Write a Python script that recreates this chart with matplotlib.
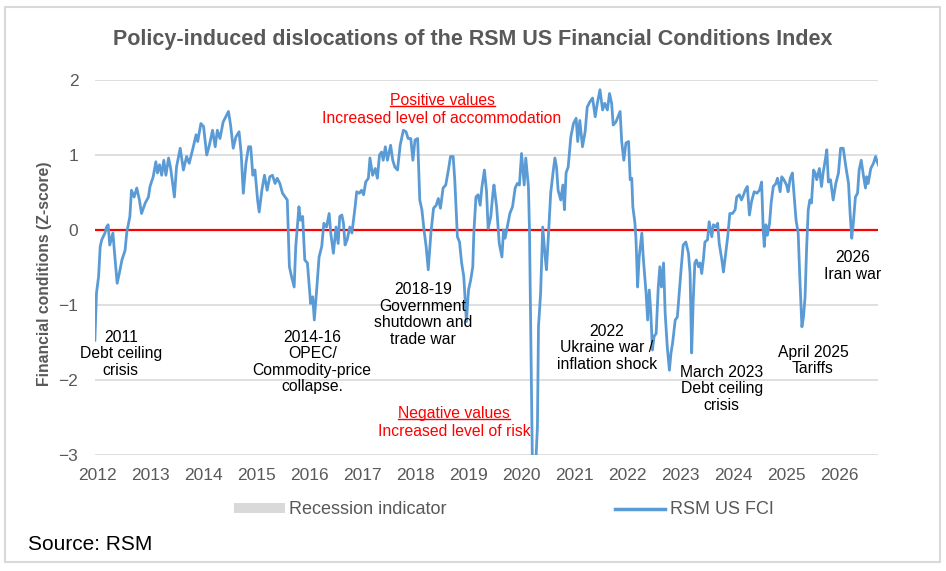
import matplotlib.pyplot as plt
from matplotlib.lines import Line2D
from matplotlib.patches import Patch, Rectangle

plt.rcParams['font.family'] = ['Liberation Sans', 'DejaVu Sans']

# RSM US FCI (decimal year, z-score)
dates = [
    2011.96, 2011.99, 2012.03, 2012.06, 2012.09, 2012.15, 2012.18, 2012.21, 2012.24, 2012.30,
    2012.33, 2012.38, 2012.42, 2012.47, 2012.53, 2012.56, 2012.62, 2012.65, 2012.70, 2012.75,
    2012.80, 2012.84, 2012.91, 2012.97, 2013.00, 2013.06, 2013.11, 2013.14, 2013.18, 2013.22,
    2013.26, 2013.30, 2013.35, 2013.39, 2013.46, 2013.50, 2013.57, 2013.63, 2013.69, 2013.74,
    2013.81, 2013.87, 2013.90, 2013.96, 2014.01, 2014.07, 2014.12, 2014.18, 2014.23, 2014.27,
    2014.32, 2014.38, 2014.43, 2014.48, 2014.52, 2014.57, 2014.62, 2014.68, 2014.72, 2014.76,
    2014.81, 2014.86, 2014.90, 2014.94, 2014.98, 2015.03, 2015.06, 2015.11, 2015.16, 2015.21,
    2015.26, 2015.31, 2015.36, 2015.40, 2015.45, 2015.50, 2015.55, 2015.59, 2015.63, 2015.67,
    2015.72, 2015.75, 2015.81, 2015.84, 2015.88, 2015.92, 2015.97, 2016.03, 2016.07, 2016.10,
    2016.14, 2016.19, 2016.24, 2016.28, 2016.33, 2016.38, 2016.41, 2016.46, 2016.51, 2016.55,
    2016.58, 2016.62, 2016.65, 2016.68, 2016.72, 2016.77, 2016.81, 2016.87, 2016.90, 2016.95,
    2016.99, 2017.03, 2017.07, 2017.12, 2017.15, 2017.20, 2017.25, 2017.29, 2017.33, 2017.37,
    2017.40, 2017.44, 2017.48, 2017.54, 2017.58, 2017.62, 2017.67, 2017.72, 2017.78, 2017.83,
    2017.87, 2017.92, 2017.96, 2018.00, 2018.05, 2018.09, 2018.13, 2018.17, 2018.21, 2018.25,
    2018.30, 2018.35, 2018.40, 2018.44, 2018.48, 2018.53, 2018.58, 2018.63, 2018.67, 2018.72,
    2018.75, 2018.80, 2018.84, 2018.88, 2018.92, 2018.97, 2019.01, 2019.05, 2019.09, 2019.11,
    2019.15, 2019.19, 2019.23, 2019.26, 2019.31, 2019.35, 2019.38, 2019.43, 2019.47, 2019.49,
    2019.54, 2019.59, 2019.64, 2019.67, 2019.70, 2019.74, 2019.79, 2019.84, 2019.89, 2019.93,
    2019.97, 2020.01, 2020.06, 2020.09, 2020.14, 2020.16, 2020.19, 2020.22, 2020.26, 2020.31,
    2020.33, 2020.37, 2020.41, 2020.45, 2020.48, 2020.52, 2020.56, 2020.61, 2020.64, 2020.67,
    2020.70, 2020.75, 2020.79, 2020.82, 2020.85, 2020.89, 2020.94, 2020.99, 2021.04, 2021.07,
    2021.11, 2021.16, 2021.21, 2021.25, 2021.30, 2021.35, 2021.40, 2021.44, 2021.49, 2021.54,
    2021.58, 2021.63, 2021.67, 2021.71, 2021.74, 2021.79, 2021.84, 2021.87, 2021.90, 2021.94,
    2021.98, 2022.03, 2022.06, 2022.09, 2022.11, 2022.15, 2022.17, 2022.20, 2022.23, 2022.28,
    2022.31, 2022.36, 2022.39, 2022.42, 2022.45, 2022.48, 2022.51, 2022.55, 2022.59, 2022.62,
    2022.65, 2022.69, 2022.72, 2022.76, 2022.80, 2022.83, 2022.86, 2022.91, 2022.95, 2022.99,
    2023.02, 2023.06, 2023.11, 2023.16, 2023.19, 2023.22, 2023.25, 2023.28, 2023.31, 2023.35,
    2023.38, 2023.41, 2023.44, 2023.47, 2023.52, 2023.55, 2023.60, 2023.63, 2023.68, 2023.71,
    2023.74, 2023.79, 2023.82, 2023.87, 2023.90, 2023.94, 2023.99, 2024.04, 2024.07, 2024.12,
    2024.16, 2024.20, 2024.23, 2024.27, 2024.31, 2024.35, 2024.40, 2024.45, 2024.50, 2024.54,
    2024.57, 2024.59, 2024.62, 2024.65, 2024.69, 2024.72, 2024.76, 2024.81, 2024.84, 2024.89,
    2024.92, 2024.96, 2025.01, 2025.04, 2025.08, 2025.12, 2025.15, 2025.19, 2025.23, 2025.26,
    2025.30, 2025.33, 2025.36, 2025.39, 2025.42, 2025.45, 2025.48, 2025.52, 2025.55, 2025.58,
    2025.63, 2025.67, 2025.70, 2025.74, 2025.77, 2025.80, 2025.84, 2025.89, 2025.94, 2025.99,
    2026.03, 2026.08, 2026.13, 2026.18, 2026.21, 2026.24, 2026.27, 2026.31, 2026.35, 2026.38,
    2026.42, 2026.46, 2026.50, 2026.52, 2026.55, 2026.60, 2026.65, 2026.69, 2026.72, 2026.76,
]
fci = [
    -1.47, -0.84, -0.62, -0.22, -0.13, -0.04, 0.04, 0.07, -0.20, -0.04,
    -0.30, -0.71, -0.58, -0.40, -0.27, -0.04, 0.18, 0.53, 0.44, 0.56,
    0.40, 0.22, 0.36, 0.44, 0.58, 0.71, 0.91, 0.76, 0.87, 0.73,
    0.93, 0.73, 0.96, 0.82, 0.44, 0.84, 1.09, 0.80, 0.98, 0.89,
    1.09, 1.27, 1.18, 1.42, 1.38, 1.00, 1.13, 1.33, 1.11, 1.33,
    1.22, 1.44, 1.51, 1.58, 1.40, 1.09, 1.24, 1.31, 1.02, 0.49,
    0.89, 1.11, 1.11, 0.73, 0.80, 0.40, 0.24, 0.53, 0.73, 0.53,
    0.71, 0.73, 0.62, 0.69, 0.62, 0.49, 0.44, 0.40, -0.49, -0.62,
    -0.76, -0.22, 0.31, 0.13, 0.18, -0.40, -0.44, -0.98, -0.89, -1.20,
    -0.84, -0.36, -0.22, 0.09, 0.04, 0.22, -0.04, -0.31, 0.04, -0.18,
    0.18, 0.20, 0.09, -0.20, -0.13, 0.04, -0.04, 0.31, 0.51, 0.49,
    0.53, 0.47, 0.64, 0.69, 0.96, 0.73, 0.82, 0.69, 1.00, 1.04,
    0.93, 1.11, 0.93, 1.13, 0.93, 0.84, 0.80, 1.13, 1.33, 1.31,
    1.22, 1.22, 0.93, 1.20, 1.22, 0.40, 0.27, 0.00, -0.22, -0.53,
    -0.04, 0.29, 0.33, 0.42, 0.29, 0.56, 0.60, 0.80, 0.98, 0.98,
    0.67, -0.09, -0.16, -0.44, -0.62, -1.22, -0.80, -0.67, -0.49, -0.04,
    0.44, 0.47, 0.33, 0.56, 0.80, 0.51, 0.02, 0.18, 0.49, 0.60,
    0.31, -0.18, -0.36, 0.00, -0.11, 0.04, 0.22, 0.31, 0.56, 0.62,
    0.60, 1.02, 0.60, 0.96, 0.58, 0.00, -1.73, -3.40, -3.40, -2.62,
    -1.29, -0.84, 0.04, -0.31, -0.53, -0.04, 0.49, 0.80, 0.96, 0.84,
    0.53, 0.40, 0.60, 0.27, 0.76, 0.84, 1.24, 1.42, 1.49, 1.18,
    1.46, 1.11, 1.31, 1.64, 1.71, 1.76, 1.51, 1.69, 1.87, 1.60,
    1.69, 1.60, 1.82, 1.69, 1.40, 1.44, 1.53, 1.58, 1.18, 0.93,
    1.16, 1.18, 0.67, 0.69, 0.31, 0.09, -0.13, -0.76, -0.36, -0.04,
    -0.40, -0.84, -1.20, -0.80, -1.11, -1.60, -1.42, -1.38, -0.76, -0.49,
    -0.76, -0.44, -1.11, -1.56, -1.87, -1.64, -1.51, -1.20, -1.16, -0.80,
    -0.53, -0.20, -0.16, -0.31, -0.58, -1.64, -0.93, -0.44, -0.40, -0.49,
    -0.44, -0.58, -0.40, -0.16, -0.13, 0.11, -0.09, 0.07, 0.04, 0.09,
    -0.18, -0.40, -0.56, -0.27, -0.09, 0.22, 0.22, 0.27, 0.44, 0.47,
    0.40, 0.47, 0.53, 0.58, 0.20, 0.38, 0.51, 0.49, 0.53, 0.64,
    0.00, -0.22, 0.07, -0.07, 0.09, 0.36, 0.58, 0.62, 0.69, 0.51,
    0.71, 0.67, 0.60, 0.51, 0.69, 0.76, 0.49, 0.13, -0.04, -0.62,
    -1.29, -1.16, -0.89, -0.22, 0.27, 0.40, 0.36, 0.80, 0.76, 0.67,
    0.82, 0.58, 0.76, 0.93, 1.07, 0.64, 0.67, 0.40, 0.62, 0.76,
    1.09, 1.09, 0.84, 0.62, 0.22, -0.11, 0.09, 0.44, 0.49, 0.80,
    0.93, 0.73, 0.56, 0.71, 0.62, 0.82, 0.89, 0.98, 0.91, 0.84,
]

years = list(range(2012, 2027))
yticks = [-3, -2, -1, 0, 1, 2]

# event labels: (text, x, y)
events = [
    ('2011\nDebt ceiling\ncrisis', 2012.45, -1.33),
    ('2014-16\nOPEC/\nCommodity-price\ncollapse.', 2016.06, -1.33),
    ('2018-19\nGovernment\nshutdown and\ntrade war', 2018.15, -0.70),
    ('2022\nUkraine war /\ninflation shock', 2021.62, -1.25),
    ('March 2023\nDebt ceiling\ncrisis', 2023.79, -1.80),
    ('April 2025\nTariffs', 2025.51, -1.53),
    ('2026\nIran war', 2026.25, -0.27),
]

grey = '#595959'
blue = '#5b9bd5'

fig = plt.figure(figsize=(9.46, 5.71), dpi=100)
ax = fig.add_axes([95 / 946, 1 - 455 / 571, 783 / 946, 375 / 571])

ax.plot(dates, fci, color=blue, lw=2.0, zorder=3)

ax.set_xlim(2011.962, 2026.736)
ax.set_ylim(-3, 2)
ax.set_yticks(yticks)
ax.set_xticks(years)
ax.tick_params(length=0, labelsize=12.5, labelcolor=grey)
ax.tick_params(axis='x', pad=9.5)
ax.tick_params(axis='y', pad=12)
for s in ax.spines.values():
    s.set_visible(False)
for t in yticks:
    if t == 0:
        ax.axhline(t, color='#ff0000', lw=1.6, zorder=2)
    else:
        ax.axhline(t, color='#d9d9d9', lw=1.2, zorder=1)

fig.text(45 / 946, 1 - 274 / 571, 'Financial conditions (Z-score)', rotation=90,
         ha='center', va='center', fontsize=11.3, fontweight='bold', color=grey)

for txt, x, y in events:
    ax.text(x, y, txt, ha='center', va='top', fontsize=11.3, color='black',
            linespacing=1.12)

pos1 = ax.text(2018.51, 1.72, 'Positive values', ha='center', va='center', fontsize=11.3, color='#ff0000')
ax.text(2018.51, 1.49, 'Increased level of accommodation', ha='center', va='center', fontsize=11.3, color='#ff0000')
neg1 = ax.text(2018.74, -2.45, 'Negative values', ha='center', va='center', fontsize=11.3, color='#ff0000')
ax.text(2018.74, -2.69, 'Increased level of risk', ha='center', va='center', fontsize=11.3, color='#ff0000')

fig.suptitle('Policy-induced dislocations of the RSM US Financial Conditions Index',
             x=0.5, y=1 - 40 / 571, va='center', fontsize=15.5, fontweight='bold', color=grey)

handles = [Patch(facecolor='#d9d9d9', edgecolor='none'),
           Line2D([0], [0], color=blue, lw=2.5)]
fig.legend(handles, ['Recession indicator', 'RSM US FCI'], loc='center',
           bbox_to_anchor=(504 / 946, 1 - 510 / 571), ncol=2, frameon=False, fontsize=13,
           handlelength=2.8, handleheight=0.45, handletextpad=0.25, columnspacing=9.3,
           labelcolor=grey)

fig.text(28 / 946, 1 - 545 / 571, 'Source: RSM', fontsize=15, va='center', ha='left')

fig.patches.append(Rectangle((5 / 946, 1 - 562 / 571), 935 / 946, 555 / 571,
                             transform=fig.transFigure, fill=False,
                             edgecolor='#d9d9d9', lw=1.5))

# underline the two red headings
fig.canvas.draw()
r = fig.canvas.get_renderer()
inv = fig.transFigure.inverted()
for t in (pos1, neg1):
    bb = t.get_window_extent(r)
    (x0, y0), (x1, _) = inv.transform([(bb.x0, bb.y0 + 2), (bb.x1, bb.y0 + 2)])
    fig.add_artist(Line2D([x0, x1], [y0, y0], transform=fig.transFigure,
                          color='#ff0000', lw=1.0))

fig.savefig('out.png', dpi=100)
